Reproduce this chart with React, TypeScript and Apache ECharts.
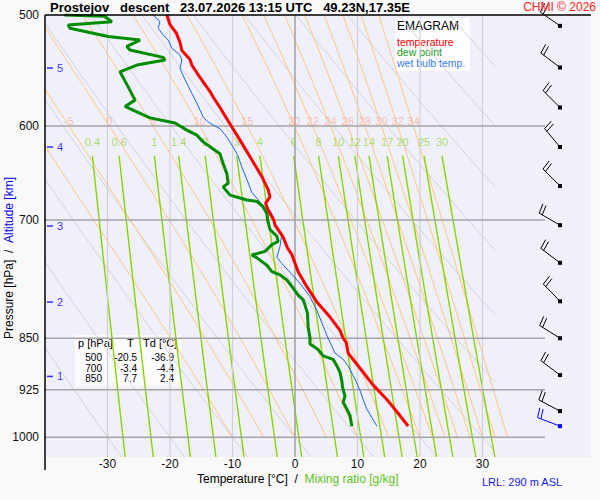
import React, { useEffect, useRef } from "react";
import * as echarts from "echarts";

// ---------- data ----------
const TEMP_P = [500,508,515,523,530,538,543,554,567,572,582,587,600,614,631,652,666,674,681,689,700,706,720,733,741,762,781,801,821,839,850,856,871,893,918,940,959,982];
const TEMP_T = [-20.5,-20.0,-19.0,-18.4,-18.1,-16.8,-16.5,-15.2,-13.6,-13.1,-12.0,-11.5,-10.2,-8.8,-7.2,-5.3,-4.3,-4.0,-4.7,-4.3,-3.4,-3.2,-1.9,-1.2,-0.5,0.5,1.9,3.5,5.6,7.2,7.7,8.2,8.5,10.4,12.5,14.7,16.3,18.1];

const DEW_P = [500,501,505.5,508.3,511,518,521,526.5,529.6,536,538.4,542.8,548.9,552,562.6,575,581,584,592,597,604,609,615.8,623,628,638,649,659,663,672,677.5,679,685,693,700,711,719,725,729,737,741.5,745,754,762,766,772.5,783,792,798,805,816,834,850,858,866,875,880,889.5,899,912,921,935,944,955,965,982];
const DEW_T = [-36.9,-30.5,-29.3,-36.3,-36.0,-29.9,-24.8,-26.9,-26.4,-21.1,-20.8,-25.3,-28.0,-27.7,-26.7,-25.6,-27.2,-26.1,-23.2,-19.2,-17.3,-15.7,-14.7,-13.1,-12.0,-11.5,-10.9,-10.7,-11.5,-10.4,-7.7,-6.1,-5.1,-4.5,-4.4,-4.0,-2.9,-2.7,-3.7,-4.8,-6.9,-6.1,-4.5,-3.7,-2.4,-1.3,-0.3,0.5,1.3,1.6,2.0,2.1,2.4,2.4,3.7,4.5,6.1,6.7,7.2,7.5,7.6,8.0,7.7,8.3,8.8,9.1];

const WB_P = [500,505.5,511,516.6,521,528,534,538.4,546,556,568.8,578,591,596,599,602.5,611,621,630.5,642,655,669,677,685,689,696,704,716,731,744,752,762.6,777,794,812,829,846,871,880,889.5,909,926,940,955,982];
const WB_T = [-22.7,-21.6,-21.9,-21.1,-20.3,-19.7,-18.4,-18.1,-18.4,-17.6,-16.5,-15.7,-14.7,-13.9,-13.1,-12.0,-10.9,-9.9,-9.1,-8.5,-7.7,-6.9,-5.9,-5.1,-4.0,-3.5,-3.2,-2.1,-2.4,-2.9,-2.1,-0.8,0.8,2.4,3.5,4.3,5.1,6.4,7.7,8.5,9.6,10.4,10.9,11.5,13.1];

const WIND_P = [509, 545, 582, 621, 662, 706, 751, 800, 850, 903, 958, 982];
const WIND_DIR = [305, 307, 315, 320, 315, 300, 307, 316, 302, 307, 298, 291];
const WIND_KT = [20, 20, 20, 20, 20, 20, 20, 20, 20, 20, 20, 20];
const WIND_SURFACE = [0, 0, 0, 0, 0, 0, 0, 0, 0, 0, 0, 1];

const ALT_KM = [1, 2, 3, 4, 5];
const ALT_P = [905, 801, 707, 621, 545.5];

const TABLE_P = ["500", "700", "850"];
const TABLE_T = ["-20.5", "-3.4", "7.7"];
const TABLE_TD = ["-36.9", "-4.4", "2.4"];

const LEGEND_NAMES = ["temperature", "dew point", "wet bulb temp."];
const LEGEND_COLORS = ["#ff0000", "#1a9a1a", "#3a7de6"];

const P_TICKS = [500, 600, 700, 850, 925, 1000];
const P_GRID = [600, 700, 850, 925, 1000];
const T_TICKS = [-30, -20, -10, 0, 10, 20, 30];
const THETA_DRY = [-30, -20, -10, 0, 10, 20, 30, 40, 50, 60, 70, 80, 90];
const THETA_W = [-10, -5, 0, 5, 10, 15, 20, 22, 24, 26, 28, 30, 32, 34];
const MIX_W = [0.4, 0.6, 1, 1.4, 2, 3, 4, 6, 8, 10, 12, 14, 17, 20, 25, 30];

// ---------- axis ranges ----------
const P_TOP = 500;
const P_BOT = 1033;
const T_MIN = -40;
const T_MAX = 47.36;
const BARB_T = 42.4;
const FONT = "'Liberation Sans', Arial, sans-serif";

const L = (p: number) => Math.log(p);

// thermodynamic helpers for background lines
const KAPPA = 0.2857;
function dryT(thetaC: number, p: number) {
  return (thetaC + 273.15) * Math.pow(p / 1000, KAPPA) - 273.15;
}
function esat(tc: number) {
  return 6.112 * Math.exp((17.67 * tc) / (tc + 243.5));
}
function moistSlope(lnp: number, T: number) {
  const p = Math.exp(lnp);
  const Rd = 287.04, cp = 1005.7, Lv = 2.501e6, eps = 0.622;
  const es = esat(T - 273.15);
  const rs = (eps * es) / (p - es);
  return (Rd * T + Lv * rs) / (cp + (Lv * Lv * rs * eps) / (Rd * T * T));
}
function moistLine(thw: number) {
  const pts: number[][] = [];
  const n = 120;
  const l0 = L(1000), l1 = L(P_TOP);
  const h = (l1 - l0) / n;
  let T = thw + 273.15;
  let l = l0;
  pts.push([T - 273.15, l]);
  for (let i = 0; i < n; i++) {
    const k1 = moistSlope(l, T);
    const k2 = moistSlope(l + h / 2, T + (h / 2) * k1);
    const k3 = moistSlope(l + h / 2, T + (h / 2) * k2);
    const k4 = moistSlope(l + h, T + h * k3);
    T += (h / 6) * (k1 + 2 * k2 + 2 * k3 + k4);
    l += h;
    pts.push([T - 273.15, l]);
  }
  return pts;
}
function interpAt(pts: number[][], lp: number) {
  for (let i = 1; i < pts.length; i++) {
    const a = pts[i - 1], b = pts[i];
    if ((a[1] - lp) * (b[1] - lp) <= 0) {
      const f = (lp - a[1]) / (b[1] - a[1]);
      return a[0] + f * (b[0] - a[0]);
    }
  }
  return pts[pts.length - 1][0];
}
function mixTd(w: number, p: number) {
  const e = (w * p) / (622 + w);
  const g = Math.log(e / 6.112);
  return (243.5 * g) / (17.67 - g);
}

const lineBase = {
  type: "line",
  showSymbol: false,
  symbol: "none",
  silent: true,
  animation: false,
  clip: true,
};

export default function App() {
  const ref = useRef<HTMLDivElement>(null);
  useEffect(() => {
    if (!ref.current) return;
    const chart = echarts.init(ref.current, null, { renderer: "svg" });
    const series: any[] = [];

    // dry adiabats
    THETA_DRY.forEach((th) => {
      const pts: number[][] = [];
      const n = 80;
      for (let i = 0; i <= n; i++) {
        const lp = L(P_TOP) + ((L(P_BOT) - L(P_TOP)) * i) / n;
        const t = dryT(th, Math.exp(lp));
        if (t <= 32) pts.push([t, lp]);
        else {
          if (pts.length) {
            const pc = 1000 * Math.pow((32 + 273.15) / (th + 273.15), 1 / KAPPA);
            pts.push([32, L(pc)]);
          }
          break;
        }
      }
      if (pts.length > 1)
        series.push({ ...lineBase, data: pts, z: 1, lineStyle: { color: "#d2d2d6", width: 1 } });
    });

    // moist adiabats
    const moistLabels: any[] = [];
    THETA_W.forEach((th) => {
      const pts = moistLine(th);
      series.push({ ...lineBase, data: pts, z: 2, lineStyle: { color: "#ffc47c", width: 1 } });
      moistLabels.push({ value: [interpAt(pts, L(600)), L(600)], name: String(th) });
    });

    // mixing ratio lines
    const mixLabels: any[] = [];
    MIX_W.forEach((w) => {
      const pts: number[][] = [];
      const n = 20;
      for (let i = 0; i <= n; i++) {
        const p = 630 + ((P_BOT - 630) * i) / n;
        pts.push([mixTd(w, p), L(p)]);
      }
      series.push({ ...lineBase, data: pts, z: 3, lineStyle: { color: "#88d400", width: 1.4 } });
      mixLabels.push({ value: [mixTd(w, 630), L(630)], name: String(w) });
    });

    // vertical grid lines
    T_TICKS.forEach((t) => {
      series.push({
        ...lineBase,
        data: [[t, L(P_TOP)], [t, L(P_BOT)]],
        z: 4,
        lineStyle: { color: t === 0 ? "#9a9a9a" : "#d0d0d4", width: t === 0 ? 1.4 : 1.2 },
      });
    });
    // horizontal grid lines
    P_GRID.forEach((p) => {
      series.push({
        ...lineBase,
        data: [[T_MIN, L(p)], [40, L(p)]],
        z: 4,
        lineStyle: { color: "#a4a4a4", width: 1.4 },
      });
    });

    // labels of moist adiabats and mixing ratio lines
    series.push({
      type: "scatter",
      silent: true,
      symbolSize: 0,
      z: 6,
      data: moistLabels,
      label: {
        show: true,
        position: "top",
        distance: 0,
        formatter: (d: any) => d.name,
        color: "#f5b09e",
        fontSize: 11,
        fontFamily: FONT,
      },
    });
    series.push({
      type: "scatter",
      silent: true,
      symbolSize: 0,
      z: 6,
      data: mixLabels,
      label: {
        show: true,
        position: "top",
        distance: 8,
        formatter: (d: any) => d.name,
        color: "#96d640",
        fontSize: 11,
        fontFamily: FONT,
      },
    });

    // altitude markers
    series.push({
      type: "scatter",
      silent: true,
      symbol: "rect",
      symbolSize: [6, 1.5],
      itemStyle: { color: "#0000ee" },
      z: 6,
      data: ALT_P.map((p, i) => ({ value: [-39.2, L(p)], name: String(ALT_KM[i]) })),
      label: {
        show: true,
        position: "right",
        distance: 4,
        formatter: (d: any) => d.name,
        color: "#0000ee",
        fontSize: 11,
        fontFamily: FONT,
      },
    });

    // profiles
    series.push({
      ...lineBase,
      data: WB_P.map((p, i) => [WB_T[i], L(p)]),
      z: 10,
      lineStyle: { color: "#1a66e6", width: 1 },
    });
    series.push({
      ...lineBase,
      data: DEW_P.map((p, i) => [DEW_T[i], L(p)]),
      z: 11,
      lineStyle: { color: "#008c00", width: 3 },
    });
    series.push({
      ...lineBase,
      data: TEMP_P.map((p, i) => [TEMP_T[i], L(p)]),
      z: 12,
      lineStyle: { color: "#ff0000", width: 3 },
    });

    // wind barbs
    series.push({
      type: "custom",
      silent: true,
      z: 12,
      clip: false,
      data: WIND_P.map((p, i) => [L(p), WIND_DIR[i], WIND_KT[i], WIND_SURFACE[i]]),
      renderItem: (params: any, api: any) => {
        const lp = api.value(0);
        const dir = api.value(1);
        const spd = api.value(2);
        const surf = api.value(3);
        const c = api.coord([BARB_T, lp]);
        const x0 = c[0], y0 = c[1];
        const color = surf ? "#0000ff" : "#000000";
        const len = 24;
        const rad = (dir * Math.PI) / 180;
        const ux = Math.sin(rad), uy = -Math.cos(rad);
        const x1 = x0 + ux * len, y1 = y0 + uy * len;
        const th = (82 * Math.PI) / 180;
        const fx = ux * Math.cos(th) - uy * Math.sin(th);
        const fy = ux * Math.sin(th) + uy * Math.cos(th);
        const children: any[] = [
          { type: "line", shape: { x1: x0, y1: y0, x2: x1, y2: y1 }, style: { stroke: color, lineWidth: 1 } },
          { type: "rect", shape: { x: x0 - 2, y: y0 - 2, width: 4, height: 4 }, style: { fill: color } },
        ];
        const full = Math.floor(spd / 10);
        const half = spd % 10 >= 5 ? 1 : 0;
        let k = 0;
        for (let i = 0; i < full; i++, k++) {
          const sx = x1 - ux * 3.5 * k, sy = y1 - uy * 3.5 * k;
          children.push({ type: "line", shape: { x1: sx, y1: sy, x2: sx + fx * 10, y2: sy + fy * 10 }, style: { stroke: color, lineWidth: 1 } });
        }
        if (half) {
          const sx = x1 - ux * 3.5 * k, sy = y1 - uy * 3.5 * k;
          children.push({ type: "line", shape: { x1: sx, y1: sy, x2: sx + fx * 5, y2: sy + fy * 5 }, style: { stroke: color, lineWidth: 1 } });
        }
        return { type: "group", children };
      },
    });

    const tableChildren: any[] = [
      { type: "rect", shape: { x: 75, y: 335, width: 106, height: 51 }, style: { fill: "rgba(255,255,255,0.75)" } },
      { type: "text", style: { x: 78, y: 343, text: "p [hPa]", font: `11px ${FONT}`, fill: "#000", textVerticalAlign: "middle" } },
      { type: "text", style: { x: 127, y: 343, text: "T", font: `11px ${FONT}`, fill: "#000", textVerticalAlign: "middle" } },
      { type: "text", style: { x: 143, y: 343, text: "Td [°C]", font: `11px ${FONT}`, fill: "#000", textVerticalAlign: "middle" } },
    ];
    TABLE_P.forEach((p, i) => {
      const y = 357.5 + i * 10.5;
      tableChildren.push({ type: "text", style: { x: 102, y, text: p, font: `10px ${FONT}`, fill: "#000", textAlign: "right", textVerticalAlign: "middle" } });
      tableChildren.push({ type: "text", style: { x: 137, y, text: TABLE_T[i], font: `10px ${FONT}`, fill: "#000", textAlign: "right", textVerticalAlign: "middle" } });
      tableChildren.push({ type: "text", style: { x: 174, y, text: TABLE_TD[i], font: `10px ${FONT}`, fill: "#000", textAlign: "right", textVerticalAlign: "middle" } });
    });

    const legendChildren: any[] = [
      { type: "rect", shape: { x: 395, y: 18, width: 75, height: 53 }, style: { fill: "rgba(255,255,255,0.85)" } },
      { type: "text", style: { x: 397, y: 26, text: "EMAGRAM", font: `12px ${FONT}`, fill: "#000", textVerticalAlign: "middle" } },
    ];
    LEGEND_NAMES.forEach((n, i) => {
      legendChildren.push({
        type: "text",
        style: { x: 397, y: 41.5 + i * 10.5, text: n, font: `10.5px ${FONT}`, fill: LEGEND_COLORS[i], textVerticalAlign: "middle" },
      });
    });

    chart.setOption({
      animation: false,
      backgroundColor: "#f9f9f9",
      grid: {
        left: 45,
        right: 9,
        top: 15,
        bottom: 43,
        show: true,
        backgroundColor: "#f0f0fb",
        borderWidth: 0,
        containLabel: false,
      },
      xAxis: {
        type: "value",
        min: T_MIN,
        max: T_MAX,
        axisLine: { show: false },
        axisTick: { show: false },
        splitLine: { show: false },
        axisLabel: {
          customValues: T_TICKS,
          color: "#111",
          fontSize: 12,
          fontFamily: FONT,
          margin: 1,
        },
      },
      yAxis: {
        type: "value",
        inverse: true,
        min: L(P_TOP),
        max: L(P_BOT),
        axisLine: { show: false },
        axisTick: { show: false },
        splitLine: { show: false },
        axisLabel: {
          customValues: P_TICKS.map(L),
          formatter: (v: number) => String(Math.round(Math.exp(v))),
          color: "#111",
          fontSize: 12,
          fontFamily: FONT,
          margin: 6,
        },
      },
      series,
      graphic: [
        { type: "line", shape: { x1: 45, y1: 15, x2: 45, y2: 470 }, style: { stroke: "#000", lineWidth: 1.5 }, z: 20 },
        { type: "line", shape: { x1: 45, y1: 15, x2: 591, y2: 15 }, style: { stroke: "#000", lineWidth: 1.5 }, z: 20 },
        {
          type: "text",
          x: 50,
          y: 7,
          style: {
            text: "Prostejov   descent   23.07.2026 13:15 UTC   49.23N,17.35E",
            font: `bold 13px ${FONT}`,
            fill: "#000",
            textVerticalAlign: "middle",
          },
          z: 20,
        },
        {
          type: "text",
          x: 596,
          y: 7,
          style: { text: "CHMI © 2026", font: `12px ${FONT}`, fill: "#ff2020", textAlign: "right", textVerticalAlign: "middle" },
          z: 20,
        },
        { type: "group", z: 20, children: legendChildren },
        { type: "group", z: 20, children: tableChildren },
        {
          type: "text",
          x: 9,
          y: 258,
          rotation: Math.PI / 2,
          style: {
            text: "{a|Pressure [hPa]  /  }{b|Altitude [km]}",
            rich: {
              a: { fill: "#000", font: `12px ${FONT}` },
              b: { fill: "#0000ee", font: `12px ${FONT}` },
            },
            font: `12px ${FONT}`,
            textAlign: "center",
            textVerticalAlign: "middle",
          },
          z: 20,
        },
        {
          type: "text",
          x: 197,
          y: 479,
          style: {
            text: "{a|Temperature [°C]  /  }{b|Mixing ratio [g/kg]}",
            rich: {
              a: { fill: "#000", font: `12px ${FONT}` },
              b: { fill: "#5cc41c", font: `12px ${FONT}` },
            },
            font: `12px ${FONT}`,
            textVerticalAlign: "middle",
          },
          z: 20,
        },
        {
          type: "text",
          x: 482,
          y: 482,
          style: { text: "LRL: 290 m ASL", font: `11px ${FONT}`, fill: "#1a1ae0", textVerticalAlign: "middle" },
          z: 20,
        },
      ],
    });
    return () => chart.dispose();
  }, []);
  return (
    <div
      ref={ref}
      style={{ position: "fixed", left: 0, top: 0, width: 600, height: 500, background: "#f9f9f9" }}
    />
  );
}
